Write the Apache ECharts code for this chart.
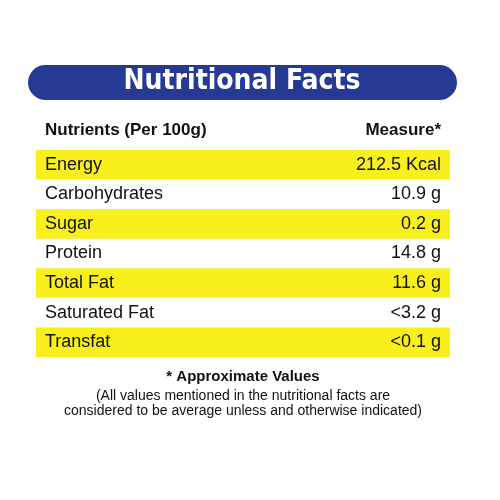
<!DOCTYPE html>
<html>
<head>
<meta charset="utf-8">
<script src="https://cdn.jsdelivr.net/npm/echarts@6/dist/echarts.min.js"></script>
<style>
  html, body { margin: 0; padding: 0; background: #fff; }
  #chart { width: 500px; height: 500px; }
</style>
</head>
<body>
<div id="chart"></div>
<script>
  var nutrients = ["Energy", "Carbohydrates", "Sugar", "Protein", "Total Fat", "Saturated Fat", "Transfat"];
  var measures = ["212.5 Kcal", "10.9 g", "0.2 g", "14.8 g", "11.6 g", "<3.2 g", "<0.1 g"];
  var highlighted = [true, false, true, false, true, false, true];

  (function () {
    var myChart = echarts.init(document.getElementById("chart"));
    var font = "Liberation Sans, Arial, sans-serif";
    var rowLabel = { color: "#111", fontSize: 18, fontFamily: font };

    var option = {
      animation: false,
      grid: { left: 36, right: 50, top: 150, height: 207 },
      xAxis: { type: "value", min: 0, max: 1, show: false },
      yAxis: { type: "category", inverse: true, data: nutrients, show: false },
      series: [
        {
          type: "bar",
          barWidth: "100%",
          data: nutrients.map(function (n, i) {
            return {
              value: 1,
              itemStyle: { color: highlighted[i] ? "#f9ef1c" : "rgba(0,0,0,0)" },
              label: Object.assign({ show: true, position: "insideLeft", distance: 9, formatter: n }, rowLabel)
            };
          })
        },
        {
          type: "bar",
          barWidth: "100%",
          barGap: "-100%",
          itemStyle: { color: "rgba(0,0,0,0)" },
          data: measures.map(function (m) {
            return {
              value: 1,
              label: Object.assign({ show: true, position: "insideRight", distance: 9, formatter: m }, rowLabel)
            };
          })
        }
      ],
      graphic: [
        {
          type: "rect",
          shape: { x: 28, y: 65, width: 429, height: 35, r: 17.5 },
          style: { fill: "#263a94" }
        },
        {
          type: "text",
          x: 242, y: 82,
          style: {
            text: "Nutritional Facts",
            fill: "#fff",
            font: "bold 28px 'Liberation Sans Narrow', 'DejaVu Sans Condensed', sans-serif",
            align: "center",
            verticalAlign: "middle"
          }
        },
        {
          type: "text",
          x: 45, y: 130,
          style: { text: "Nutrients (Per 100g)", fill: "#111", font: "bold 17px " + font, verticalAlign: "middle" }
        },
        {
          type: "text",
          x: 441, y: 130,
          style: { text: "Measure*", fill: "#111", font: "bold 17px " + font, align: "right", verticalAlign: "middle" }
        },
        {
          type: "text",
          x: 243, y: 377,
          style: { text: "* Approximate Values", fill: "#111", font: "bold 15px " + font, align: "center", verticalAlign: "middle" }
        },
        {
          type: "text",
          x: 243, y: 396,
          style: { text: "(All values mentioned in the nutritional facts are", fill: "#111", font: "14px " + font, align: "center", verticalAlign: "middle" }
        },
        {
          type: "text",
          x: 243, y: 411,
          style: { text: "considered to be average unless and otherwise indicated)", fill: "#111", font: "14px " + font, align: "center", verticalAlign: "middle" }
        }
      ]
    };
    myChart.setOption(option);

    window.addEventListener("resize", function () {
      myChart.resize();
    });
  })();
</script>
</body>
</html>
